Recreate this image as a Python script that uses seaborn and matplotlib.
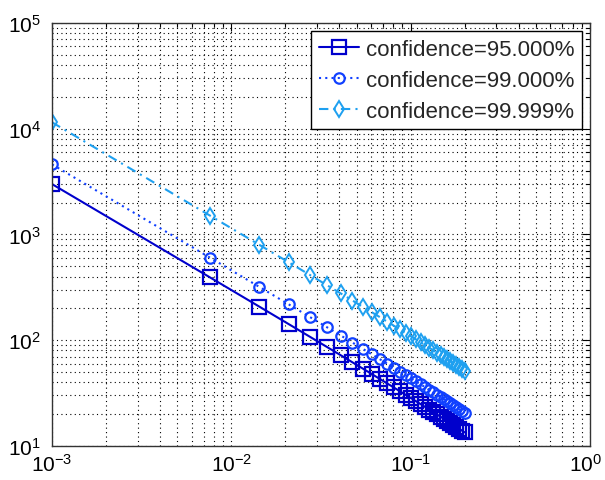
import numpy as np
import pandas as pd
import matplotlib
matplotlib.use("Agg")
import matplotlib.pyplot as plt
import matplotlib.transforms as mtransforms
import seaborn as sns
from matplotlib.ticker import LogLocator, NullFormatter

p_values = [0.0010, 0.0076, 0.0143, 0.0209, 0.0275, 0.0342, 0.0408, 0.0474, 0.0541, 0.0607,
            0.0673, 0.0740, 0.0806, 0.0872, 0.0939, 0.1005, 0.1071, 0.1138, 0.1204, 0.1270,
            0.1337, 0.1403, 0.1469, 0.1536, 0.1602, 0.1668, 0.1735, 0.1801, 0.1867, 0.1934, 0.2000]

n_95 = [2994.2, 392.7, 208.0, 141.8, 107.4, 86.09, 71.92, 61.69, 53.86, 47.84,
        43.00, 38.97, 35.65, 32.83, 30.38, 28.28, 26.45, 24.80, 23.35, 22.06,
        20.87, 19.82, 18.86, 17.96, 17.16, 16.42, 15.72, 15.09, 14.50, 13.94, 13.43]

n_99 = [4602.9, 603.6, 319.7, 218.0, 165.1, 132.3, 110.6, 94.84, 82.80, 73.54,
        66.10, 59.90, 54.80, 50.47, 46.70, 43.48, 40.66, 38.12, 35.90, 33.91,
        32.09, 30.46, 28.99, 27.61, 26.38, 25.24, 24.17, 23.19, 22.29, 21.43, 20.64]

n_99999 = [11507, 1509, 799.4, 545.0, 412.8, 330.9, 276.4, 237.1, 207.0, 183.9,
           165.3, 149.8, 137.0, 126.2, 116.8, 108.7, 101.7, 95.3, 89.7, 84.8,
           80.2, 76.2, 72.5, 69.0, 65.9, 63.1, 60.4, 58.0, 55.7, 53.6, 51.6]

labels = ["confidence=95.000%", "confidence=99.000%", "confidence=99.999%"]

sns.set_style("white")
plt.rcParams['font.family'] = ['Liberation Sans', 'DejaVu Sans']
plt.rcParams['mathtext.fontset'] = 'custom'
plt.rcParams['mathtext.rm'] = 'Liberation Sans'
plt.rcParams['mathtext.it'] = 'Liberation Sans'
plt.rcParams['mathtext.bf'] = 'Liberation Sans'

fig = plt.figure(figsize=(6.05, 4.81), dpi=100)
ax = fig.add_axes([0.086, 0.071, 0.889, 0.879])

series = [
    (n_95, labels[0], "#0000CC", "-", "s", 9.5, 1.6),
    (n_99, labels[1], "#1040FF", (0, (1, 2)), "o", 7.5, 1.6),
    (n_99999, labels[2], "#1EA0F0", (0, (4.5, 2.5, 1, 2.5)), "d", 8, 1.4),
]
for yv, lab, col, ls, mk, ms, mew in series:
    df = pd.DataFrame({"p": p_values, "n": yv})
    sns.lineplot(data=df, x="p", y="n", ax=ax, color=col, linestyle=ls, marker=mk,
                 markersize=ms, markerfacecolor="none", markeredgecolor=col,
                 markeredgewidth=mew, linewidth=1.5, label=lab)

ax.set_xscale("log")
ax.set_yscale("log")
ax.set_xlim(1e-3, 1e0)
ax.set_ylim(1e1, 1e5)
ax.set_xlabel("")
ax.set_ylabel("")

ax.xaxis.set_major_locator(LogLocator(base=10, numticks=10))
ax.yaxis.set_major_locator(LogLocator(base=10, numticks=10))
ax.xaxis.set_minor_locator(LogLocator(base=10, subs=np.arange(2, 10), numticks=20))
ax.yaxis.set_minor_locator(LogLocator(base=10, subs=np.arange(2, 10), numticks=20))
ax.xaxis.set_minor_formatter(NullFormatter())
ax.yaxis.set_minor_formatter(NullFormatter())

ax.grid(True, which="both", color="black", linestyle=(0, (1, 3)), linewidth=0.8)
ax.tick_params(which="both", direction="in", top=True, right=True, labelsize=15, colors="black")
ax.tick_params(which="major", length=6, width=0.8)
ax.tick_params(which="minor", length=3, width=0.8)
ax.tick_params(axis="x", pad=5)
ax.tick_params(axis="y", pad=8)
for s in ax.spines.values():
    s.set_color("#333333")
    s.set_linewidth(1.0)

leg = ax.legend(loc="upper right", fontsize=16, frameon=True, fancybox=False,
                edgecolor="black", framealpha=1, handlelength=1.8, borderaxespad=0.35,
                labelspacing=0.45, handletextpad=0.3, borderpad=0.35)
leg.get_frame().set_linewidth(1.0)

# keep the rightmost x tick label inside the figure
fig.canvas.draw()
last = ax.xaxis.get_major_ticks()
for t in last:
    if np.isclose(t.get_loc(), 1.0):
        t.label1.set_transform(t.label1.get_transform() +
                               mtransforms.ScaledTranslation(-3 / 72, 0, fig.dpi_scale_trans))

fig.savefig("out.png", dpi=100, facecolor="white")
